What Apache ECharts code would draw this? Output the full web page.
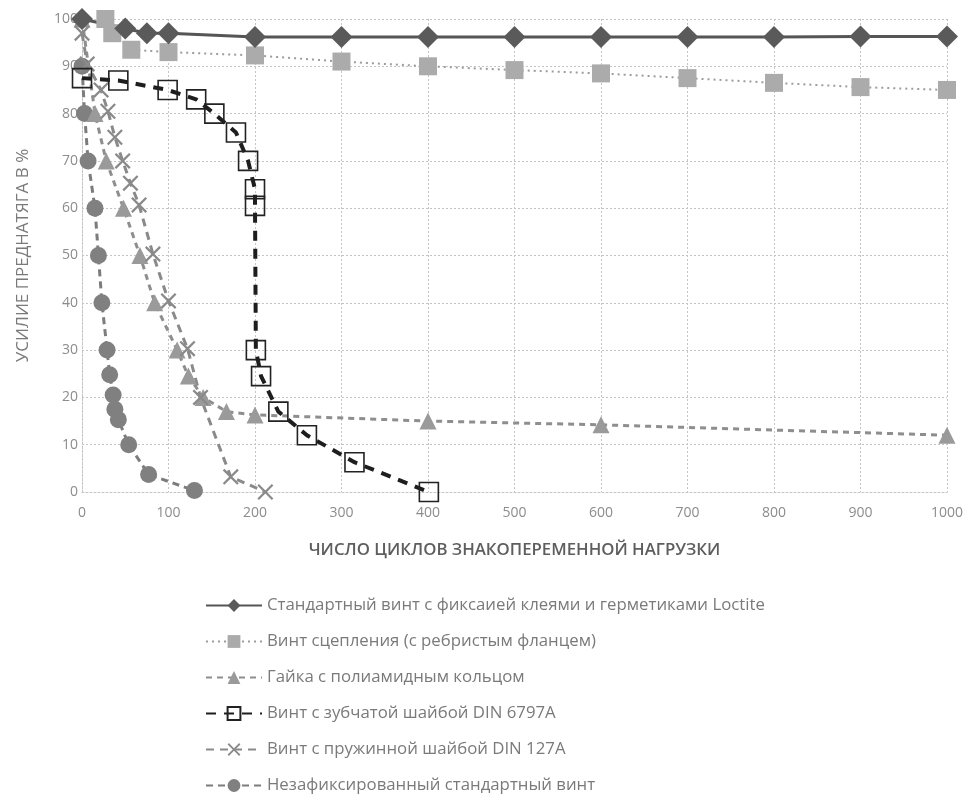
<!DOCTYPE html>
<html>
<head>
<meta charset="utf-8">
<script src="https://cdn.jsdelivr.net/npm/echarts@6/dist/echarts.min.js"></script>
<style>
  html, body { margin: 0; padding: 0; background: #fff; }
  #chart { width: 974px; height: 796px; }
</style>
</head>
<body>
<div id="chart"></div>
<script>
// подписи
const seriesNames = [
  'Стандартный винт с фиксаией клеями и герметиками Loctite',
  'Винт сцепления (с ребристым фланцем)',
  'Гайка с полиамидным кольцом',
  'Винт с зубчатой шайбой DIN 6797A',
  'Винт с пружинной шайбой DIN 127A',
  'Незафиксированный стандартный винт'
]
const xTitle = 'ЧИСЛО ЦИКЛОВ ЗНАКОПЕРЕМЕННОЙ НАГРУЗКИ'
const yTitle = 'УСИЛИЕ ПРЕДНАТЯГА В %'

// данные [циклы, %]
const loctiteData = [[0, 100], [50, 98], [75, 97], [100, 97], [200, 96.2], [300, 96.2], [400, 96.2],
  [500, 96.2], [600, 96.2], [700, 96.2], [800, 96.2], [900, 96.3], [1000, 96.3]]
const flangeData = [[27, 100], [35, 97], [57, 93.5], [100, 93], [200, 92.3], [300, 91], [400, 90],
  [500, 89.2], [600, 88.5], [700, 87.5], [800, 86.5], [900, 85.6], [1000, 85]]
const nutData = [[0, 100], [15, 80], [28, 70], [48, 60], [67, 50], [84, 40], [110, 30], [123, 24.5],
  [140, 20], [167, 17], [200, 16.3], [400, 15], [600, 14.2], [1000, 12]]
const toothedData = [[0, 87.5], [42, 87], [99, 85], [132, 83], [153, 80], [178, 76], [192, 70],
  [200, 64], [200, 60.5], [201, 30], [207, 24.5], [227, 17], [260, 12], [315, 6.3], [401, 0]]
const springData = [[0, 97], [6, 90.5], [22, 85], [30, 80.5], [38, 75], [47, 70], [56, 65.3],
  [66, 60.7], [82, 50.3], [100, 40.4], [122, 30.3], [137, 20], [172, 3.2], [212, 0]]
const plainData = [[0, 90], [3, 80], [7, 70], [15, 60], [19, 50], [23, 40], [29, 30], [32, 24.8],
  [36, 20.5], [38, 17.5], [42, 15.3], [54, 10], [77, 3.7], [130, 0.3]]

const xTicks = { min: 0, max: 1000, step: 100 }
const yTicks = { min: 0, max: 100, step: 10 }

const crossPath = 'path://M0,1L1,0L5,4L9,0L10,1L6,5L10,9L9,10L5,6L1,10L0,9L4,5Z'

const chart = echarts.init(document.getElementById('chart'))
const labelColor = '#8c8c8c'
const gridLine = {
  show: true,
  lineStyle: { color: '#c4c4c4', type: [2, 2], width: 1 }
}

const option = {
  backgroundColor: '#fff',
  animation: false,
  grid: { left: 82, right: 27, top: 19, bottom: 304 },
  legend: {
    orient: 'vertical',
    left: 200,
    top: 592,
    height: 204,
    itemWidth: 56,
    itemHeight: 16,
    itemGap: 19,
    textStyle: { color: '#7a7a7a', fontSize: 16.8, fontFamily: 'Open Sans' },
    data: seriesNames
  },
  xAxis: {
    type: 'value',
    min: xTicks.min,
    max: xTicks.max,
    interval: xTicks.step,
    name: xTitle,
    nameLocation: 'middle',
    nameGap: 50,
    nameTextStyle: { color: '#5e5e5e', fontSize: 16.8, fontWeight: 600, fontFamily: 'Open Sans' },
    axisLine: { show: true, lineStyle: { color: '#c4c4c4', type: [2, 2] } },
    axisTick: { show: false },
    axisLabel: {
      color: labelColor, fontSize: 14, margin: 14, fontFamily: 'Open Sans',
      formatter: v => String(v)
    },
    splitLine: gridLine
  },
  yAxis: {
    type: 'value',
    min: yTicks.min,
    max: yTicks.max,
    interval: yTicks.step,
    name: yTitle,
    nameLocation: 'middle',
    nameGap: 50,
    nameTextStyle: { color: '#7a7a7a', fontSize: 17, fontFamily: 'Open Sans' },
    axisLine: { show: true, lineStyle: { color: '#c4c4c4', type: [2, 2] } },
    axisTick: { show: false },
    axisLabel: { color: labelColor, fontSize: 14, margin: 4, fontFamily: 'Open Sans' },
    splitLine: gridLine
  },
  series: [
    {
      name: seriesNames[5],
      type: 'line',
      symbol: 'circle',
      symbolSize: 17,
      itemStyle: { color: '#808080' },
      lineStyle: { color: '#7c7c7c', width: 3, type: [7, 5] },
      data: plainData
    },
    {
      name: seriesNames[2],
      type: 'line',
      symbol: 'triangle',
      symbolSize: 17,
      itemStyle: { color: '#9a9a9a' },
      lineStyle: { color: '#8e8e8e', width: 3, type: [6, 5] },
      data: nutData
    },
    {
      name: seriesNames[4],
      type: 'line',
      symbol: crossPath,
      symbolSize: 16,
      itemStyle: { color: '#8a8a8a' },
      lineStyle: { color: '#8a8a8a', width: 3, type: [8, 6] },
      data: springData
    },
    {
      name: seriesNames[1],
      type: 'line',
      symbol: 'rect',
      symbolSize: 18,
      itemStyle: { color: '#ababab' },
      lineStyle: { color: '#9c9c9c', width: 2, type: [2, 4] },
      data: flangeData
    },
    {
      name: seriesNames[0],
      type: 'line',
      symbol: 'diamond',
      symbolSize: 22,
      itemStyle: { color: '#5a5a5a' },
      lineStyle: { color: '#555555', width: 3 },
      data: loctiteData
    },
    {
      name: seriesNames[3],
      type: 'line',
      symbol: 'rect',
      symbolSize: 19,
      itemStyle: { color: 'rgba(255,255,255,0)', borderColor: '#222', borderWidth: 1.6 },
      lineStyle: { color: '#1e1e1e', width: 4, type: [10, 8] },
      data: toothedData
    }
  ]
}
chart.setOption(option)
</script>
</body>
</html>
